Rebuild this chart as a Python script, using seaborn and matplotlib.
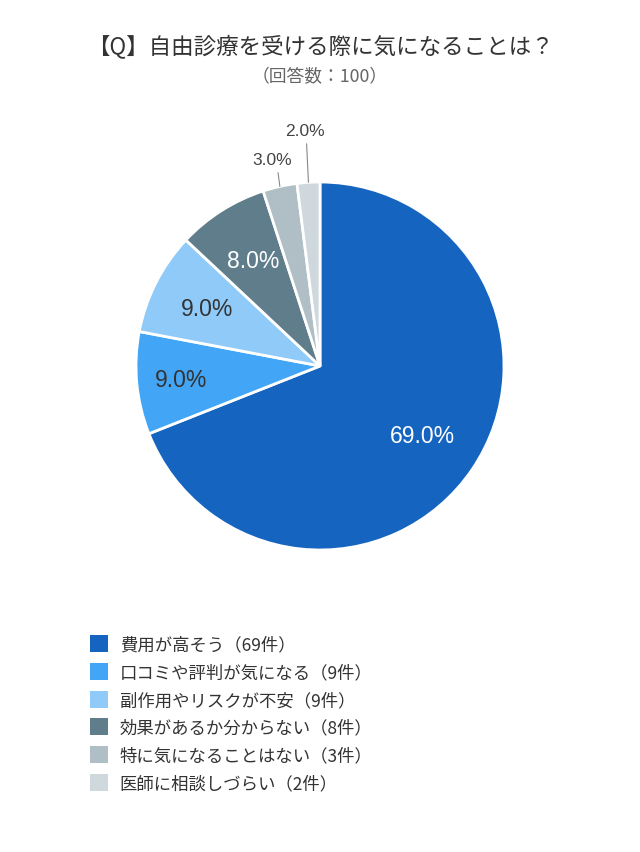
import matplotlib
matplotlib.use("Agg")
import numpy as np
import matplotlib.pyplot as plt
from matplotlib.patches import Patch
import seaborn as sns

# data
labels = ["費用が高そう（69件）", "口コミや評判が気になる（9件）", "副作用やリスクが不安（9件）",
          "効果があるか分からない（8件）", "特に気になることはない（3件）", "医師に相談しづらい（2件）"]
counts = [69, 9, 9, 8, 3, 2]
colors = ["#1565C0", "#42A5F5", "#90CAF9", "#607D8B", "#B0BEC5", "#CFD8DC"]
pct_colors = ["white", "#333333", "#333333", "white", "#444444", "#444444"]

sns.set_theme(style="white")
plt.rcParams["font.family"] = ["Noto Sans CJK JP", "DejaVu Sans"]
NUM_FONT = ["Liberation Sans", "DejaVu Sans"]

W, H = 640, 853
fig = plt.figure(figsize=(W / 100, H / 100), dpi=100)
fig.patch.set_facecolor("white")

# pie box: centre (320, 367), radius 184 px
cx, cy, r = 320, 367, 184
ax = fig.add_axes([(cx - r) / W, 1 - (cy + r) / H, 2 * r / W, 2 * r / H])

total = sum(counts)
wedges, _ = ax.pie(counts, colors=colors, startangle=90, counterclock=False,
                   wedgeprops=dict(edgecolor="white", linewidth=2))
ax.set_xlim(-1, 1)
ax.set_ylim(-1, 1)
ax.set_aspect("equal")
ax.axis("off")

# percentage labels
inner_dist = [0.67, 0.76, 0.69, 0.68]
outer_rise = {4: (0.075, -0.03), 5: (0.21, -0.01)}
for i, (w, c) in enumerate(zip(wedges, counts)):
    ang = np.deg2rad((w.theta1 + w.theta2) / 2)
    txt = f"{c / total * 100:.1f}%"
    if i < len(inner_dist):
        d = inner_dist[i]
        ax.text(d * np.cos(ang), d * np.sin(ang), txt, ha="center", va="center",
                fontsize=16.5, color=pct_colors[i], family=NUM_FONT)
    else:
        rise, dx = outer_rise[i]
        x0, y0 = 1.0 * np.cos(ang), 1.0 * np.sin(ang)
        x1, y1 = x0 - 0.01, y0 + rise
        ax.plot([x0, x1], [y0, y1], color="#888888", lw=0.8, clip_on=False)
        ax.text(x1 + dx, y1 + 0.03, txt, ha="center", va="bottom",
                fontsize=12.5, color="#444444", family=NUM_FONT)

# title
fig.text(0.5, 1 - 46 / H, "【Q】自由診療を受ける際に気になることは？", ha="center", va="center",
         fontsize=16.2, color="#333333")
fig.text(0.5, 1 - 77 / H, "（回答数：100）", ha="center", va="center",
         fontsize=12.8, color="#666666")

# legend
handles = [Patch(facecolor=c, edgecolor="none") for c in colors]
fig.legend(handles, labels, loc="upper left", bbox_to_anchor=(90 / W, 1 - 636 / H),
           frameon=False, fontsize=12.5, handlelength=1.03, handleheight=1.13,
           handletextpad=0.69, labelspacing=0.54, borderpad=0, borderaxespad=0,
           labelcolor="#333333")

plt.savefig("out.png", dpi=100)
